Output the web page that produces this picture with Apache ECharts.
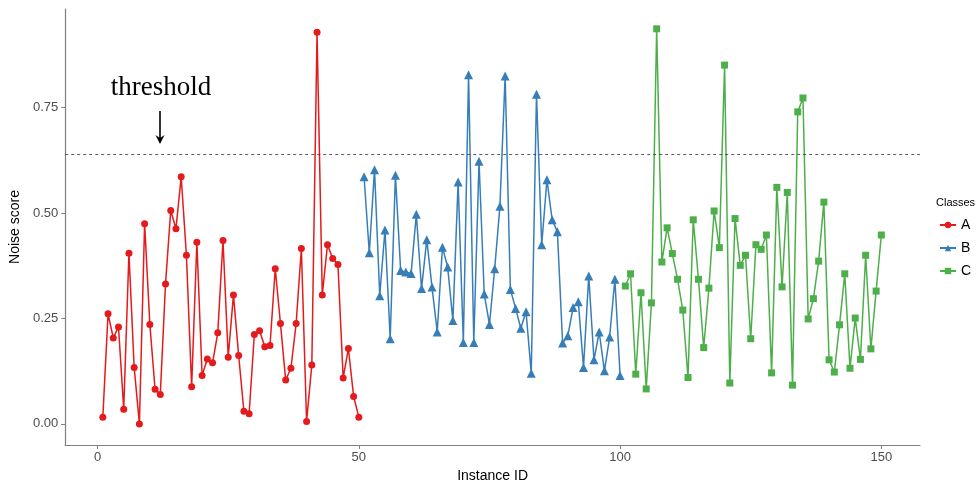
<!DOCTYPE html>
<html>
<head>
<meta charset="utf-8">
<script src="https://cdn.jsdelivr.net/npm/echarts@6/dist/echarts.min.js"></script>
<style>html,body{margin:0;padding:0;background:#fff}#c{width:978px;height:488px}</style>
</head>
<body>
<div id="c"></div>
<script>
const classNames = ['A', 'B', 'C'];
const classColors = ['#E41A1C', '#377EB8', '#4DAF4A'];
const classSymbols = ['circle', 'triangle', 'rect'];
const xTicks = [0, 50, 100, 150];
const yTicks = [0, 0.25, 0.5, 0.75];
const threshold = 0.64;

const idsA = Array.from({length: 50}, (_, i) => i + 1);
const idsB = Array.from({length: 50}, (_, i) => i + 51);
const idsC = Array.from({length: 50}, (_, i) => i + 101);

const scoresA = [0.016,0.261,0.204,0.230,0.035,0.405,0.134,0.000,0.475,0.236,
                 0.082,0.070,0.332,0.506,0.463,0.586,0.400,0.088,0.431,0.115,
                 0.154,0.145,0.216,0.435,0.158,0.306,0.162,0.030,0.024,0.212,
                 0.221,0.183,0.186,0.368,0.238,0.104,0.132,0.238,0.416,0.006,
                 0.140,0.929,0.306,0.425,0.392,0.378,0.109,0.179,0.065,0.016];
const scoresB = [0.586,0.406,0.603,0.304,0.460,0.202,0.590,0.364,0.360,0.357,
                 0.497,0.321,0.437,0.325,0.218,0.419,0.372,0.245,0.574,0.193,
                 0.828,0.193,0.623,0.308,0.236,0.368,0.516,0.825,0.319,0.274,
                 0.227,0.266,0.120,0.782,0.425,0.579,0.484,0.456,0.192,0.209,
                 0.276,0.290,0.134,0.351,0.152,0.218,0.126,0.206,0.343,0.115];
const scoresC = [0.327,0.356,0.118,0.311,0.083,0.287,0.937,0.384,0.465,0.404,
                 0.343,0.270,0.110,0.484,0.343,0.181,0.322,0.505,0.418,0.851,
                 0.097,0.487,0.376,0.400,0.202,0.425,0.414,0.448,0.121,0.561,
                 0.325,0.549,0.092,0.740,0.773,0.249,0.297,0.386,0.526,0.152,
                 0.123,0.235,0.356,0.132,0.251,0.153,0.400,0.178,0.315,0.448];

const ids = [idsA, idsB, idsC];
const scores = [scoresA, scoresB, scoresC];
const symSizes = [7, 9, 7];

const chart = echarts.init(document.getElementById('c'), null, {renderer: 'canvas'});
const font = 'Liberation Sans';

const series = classNames.map((name, k) => ({
  name: name,
  type: 'line',
  data: ids[k].map((x, i) => [x, scores[k][i]]),
  symbol: classSymbols[k],
  symbolSize: symSizes[k],
  showAllSymbol: true,
  lineStyle: {color: classColors[k], width: 1.5},
  itemStyle: {color: classColors[k]},
  animation: false,
  markLine: k === 0 ? {
    silent: true,
    symbol: ['none', 'none'],
    label: {show: false},
    lineStyle: {type: [3, 3], color: '#333', width: 0.8},
    data: [{yAxis: threshold}]
  } : undefined
}));

chart.setOption({
  animation: false,
  backgroundColor: '#fff',
  grid: {left: 60, top: 9, width: 860, height: 442, containLabel: false},
  xAxis: {
    type: 'value', min: -6.2, max: 157.4,
    name: 'Instance ID', nameLocation: 'middle', nameGap: 24,
    nameTextStyle: {fontFamily: font, fontSize: 14, color: '#000'},
    axisLine: {show: true, onZero: false, lineStyle: {color: '#7f7f7f', width: 1.2}},
    axisTick: {show: true, length: 4, customValues: xTicks, lineStyle: {color: '#7f7f7f'}},
    axisLabel: {customValues: xTicks, fontFamily: font, fontSize: 13, color: '#4d4d4d', margin: 6},
    splitLine: {show: false}
  },
  yAxis: {
    type: 'value', min: -0.05, max: 0.984,
    name: 'Noise score', nameLocation: 'middle', nameGap: 43, nameRotate: 90,
    nameTextStyle: {fontFamily: font, fontSize: 14, color: '#000'},
    axisLine: {show: true, onZero: false, lineStyle: {color: '#7f7f7f', width: 1.2}},
    axisTick: {show: true, length: 4, customValues: yTicks, lineStyle: {color: '#7f7f7f'}},
    axisLabel: {customValues: yTicks, fontFamily: font, fontSize: 13, color: '#4d4d4d', margin: 7,
      formatter: v => v.toFixed(2)},
    splitLine: {show: false}
  },
  legend: {
    orient: 'vertical', left: 934, top: 213,
    itemWidth: 16, itemHeight: 8, itemGap: 9,
    textStyle: {fontFamily: font, fontSize: 14, color: '#000', padding: [0, 0, 0, 0]},
    data: classNames
  },
  graphic: [
    {type: 'text', left: 936, top: 197, style: {text: 'Classes', fontFamily: font, fontSize: 11, fill: '#000'}},
    {type: 'text', x: 161, y: 88, style: {text: 'threshold', textAlign: 'center', textVerticalAlign: 'middle',
      font: '27px "Liberation Serif"', fill: '#000'}},
    {type: 'line', shape: {x1: 160, y1: 111, x2: 160, y2: 139}, style: {stroke: '#000', lineWidth: 1.6}},
    {type: 'polygon', shape: {points: [[155.5, 135], [160, 144], [164.5, 135], [160, 138]]}, style: {fill: '#000'}}
  ],
  series: series
});
</script>
</body>
</html>
